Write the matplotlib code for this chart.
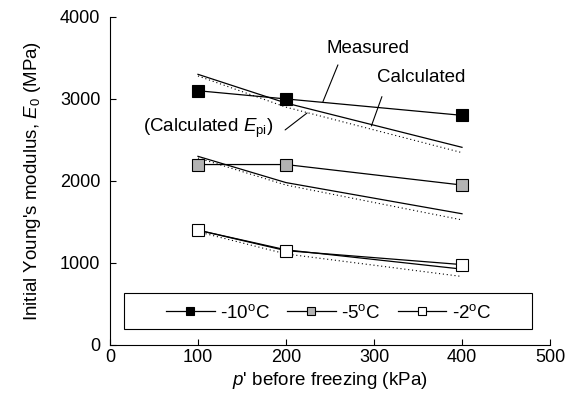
import numpy as np
import matplotlib.pyplot as plt
from matplotlib.patches import Rectangle

plt.rcParams['font.family'] = ['Liberation Sans', 'DejaVu Sans']
plt.rcParams['mathtext.fontset'] = 'custom'
plt.rcParams['mathtext.rm'] = 'Liberation Sans'
plt.rcParams['mathtext.it'] = 'Liberation Sans:italic'

p = [100, 200, 400]
temps = ['-10', '-5', '-2']
face = ['black', '#b3b3b3', 'white']

measured = [[3100, 3000, 2800],
            [2200, 2200, 1950],
            [1400, 1150, 980]]
calculated = [[3300, 2950, 2410],
              [2300, 1980, 1600],
              [1400, 1160, 925]]
calc_epi = [[3280, 2900, 2345],
            [2280, 1950, 1525],
            [1380, 1110, 835]]

fs = 13.5

fig = plt.figure(figsize=(5.74, 4.03), dpi=100)
ax = fig.add_axes([0.1916, 0.144, 0.7666, 0.814])

handles = []
for i in range(3):
    ax.plot(p, calc_epi[i], color='black', lw=0.8, ls=(0, (1, 2.5)))
    ax.plot(p, calculated[i], color='black', lw=0.9)
    h, = ax.plot(p, measured[i], color='black', lw=0.9, marker='s', ms=8,
                 mfc=face[i], mec='black', mew=0.8)
    handles.append(h)

ax.set_xlim(0, 500)
ax.set_ylim(0, 4000)
ax.set_xticks([0, 100, 200, 300, 400, 500])
ax.set_yticks([0, 1000, 2000, 3000, 4000])
ax.tick_params(direction='in', length=4, labelsize=13, width=0.8, pad=3)
ax.tick_params(axis='y', pad=7)
for s in ['top', 'right']:
    ax.spines[s].set_visible(False)
ax.spines['left'].set_linewidth(0.8)
ax.spines['bottom'].set_linewidth(0.8)

ax.set_xlabel("$p$' before freezing (kPa)", fontsize=fs, labelpad=3)
ax.set_ylabel("Initial Young's modulus, $E_0$ (MPa)", fontsize=fs, labelpad=12)

# annotations
line = dict(arrowstyle='-', lw=0.8, color='black', shrinkA=0, shrinkB=0)
ax.annotate('', xy=(242, 2967), xytext=(259, 3415), arrowprops=line)
ax.text(293, 3620, 'Measured', ha='center', va='center', fontsize=fs)
ax.annotate('', xy=(297, 2670), xytext=(309, 3028), arrowprops=line)
ax.text(354, 3256, 'Calculated', ha='center', va='center', fontsize=fs)
ax.annotate('', xy=(224, 2829), xytext=(199, 2622), arrowprops=line)
ax.text(186, 2646, '(Calculated $E_{\\rm pi}$)', ha='right', va='center', fontsize=fs)

# legend box
ax.add_patch(Rectangle((0.032, 0.049), 0.927, 0.11, transform=ax.transAxes,
                       fill=False, lw=0.8, ec='black', clip_on=False))
ax.legend(handles, [t + '$^{\\rm o}$C' for t in temps], loc='center',
          bbox_to_anchor=(0.497, 0.098), ncol=3, frameon=False, fontsize=fs,
          handlelength=2.6, columnspacing=0.9, handletextpad=0.3, markerscale=0.7)

fig.savefig('out.png', dpi=100)
